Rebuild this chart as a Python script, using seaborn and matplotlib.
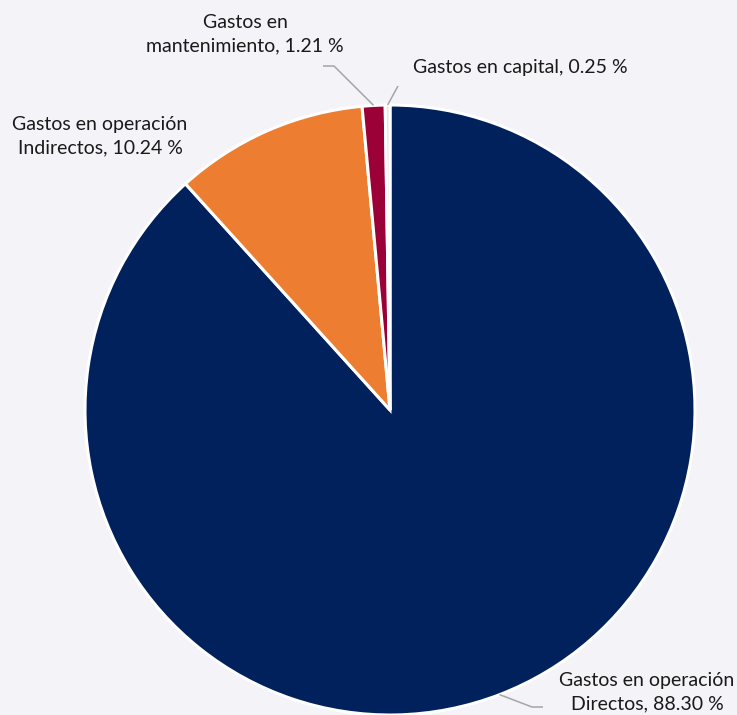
import numpy as np
import matplotlib
matplotlib.use("Agg")
import matplotlib.pyplot as plt
import seaborn as sns

categorias = ["Gastos en operación\nDirectos", "Gastos en operación\nIndirectos",
              "Gastos en\nmantenimiento", "Gastos en capital"]
porcentajes = [88.30, 10.24, 1.21, 0.25]
colores = ["#00215B", "#ED7D31", "#9B0036", "#E4E4EC"]

sns.set_theme(style="white")
plt.rcParams["font.family"] = ["Lato", "DejaVu Sans"]

fondo = "#F3F3F8"
fig = plt.figure(figsize=(7.37, 7.15), dpi=100, facecolor=fondo)

# radio 305 px, centro en (390, 410)
R, CX, CY = 305, 390, 410
W, H = 737, 715
ax = fig.add_axes([(CX - R) / W, (H - CY - R) / H, 2 * R / W, 2 * R / H])
ax.set_facecolor(fondo)

wedges, _ = ax.pie(porcentajes, colors=colores, startangle=90, counterclock=False,
                   radius=1, wedgeprops=dict(edgecolor="white", linewidth=2.2))
ax.set_xlim(-1, 1)
ax.set_ylim(-1, 1)
ax.axis("off")


def px(x, y):
    return ((x - CX) / R, (CY - y) / R)


def borde(w):
    ang = np.deg2rad((w.theta1 + w.theta2) / 2)
    return np.cos(ang), np.sin(ang)


textos = [f"{c}, {p:.2f} %" for c, p in zip(categorias, porcentajes)]
pos_texto = [(647, 692, "center"), (100, 136, "center"), (245, 34, "center"), (413, 67, "left")]
codos = [[(532, 707), (543, 707)], None, [(334, 66), (323, 66)], [(398, 86)]]

linea = dict(color="#A6A6A6", lw=1.1, clip_on=False, solid_capstyle="butt")
for w, t, (tx, ty, ha), codo in zip(wedges, textos, pos_texto, codos):
    x, y = px(tx, ty)
    ax.text(x, y, t, ha=ha, va="center", fontsize=14, color="#1A1A1A",
            linespacing=1.45, clip_on=False)
    if codo:
        pts = [borde(w)] + [px(*c) for c in codo]
        xs, ys = zip(*pts)
        ax.plot(xs, ys, **linea)

fig.savefig("out.png", dpi=100, facecolor=fondo)
